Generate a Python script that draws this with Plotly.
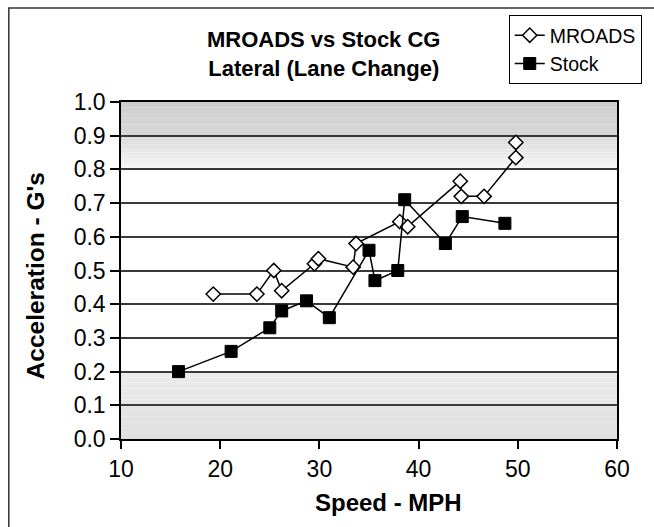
import plotly.graph_objects as go

# Lateral acceleration during a lane change, MROADS vs stock CG
mroads_speed = [19.3, 23.7, 25.4, 26.2, 29.5, 29.9, 33.4, 33.7, 38.1, 38.9, 44.2, 44.3, 46.6, 49.8, 49.8]
mroads_accel = [0.43, 0.43, 0.50, 0.44, 0.52, 0.535, 0.51, 0.58, 0.645, 0.63, 0.765, 0.72, 0.72, 0.835, 0.88]

stock_speed = [15.8, 21.1, 25.0, 26.2, 28.7, 31.0, 35.0, 35.6, 37.9, 38.6, 42.7, 44.4, 48.7]
stock_accel = [0.20, 0.26, 0.33, 0.38, 0.41, 0.36, 0.56, 0.47, 0.50, 0.71, 0.58, 0.66, 0.64]

x_ticks = [10, 20, 30, 40, 50, 60]
y_ticks = [round(0.1 * i, 1) for i in range(11)]

W, H = 654, 527
L, R, T, B = 121, 29, 102, 88
PW, PH = W - L - R, H - T - B


def px(x):
    return (x - L) / PW


def py(y):
    return (H - B - y) / PH


FONT = "Liberation Sans, Arial, sans-serif"

fig = go.Figure()
fig.add_trace(go.Scatter(
    x=mroads_speed, y=mroads_accel, name="MROADS", mode="lines+markers",
    line=dict(color="black", width=1.5),
    marker=dict(symbol="diamond", size=11, color="white",
                line=dict(color="black", width=1.5)),
))
fig.add_trace(go.Scatter(
    x=stock_speed, y=stock_accel, name="Stock", mode="lines+markers",
    line=dict(color="black", width=1.5),
    marker=dict(symbol="square", size=12, color="black",
                line=dict(color="black", width=1)),
))

shapes = []


def band(y0, y1, c0, c1, steps):
    # vertical grey gradient from c0 (at y0) to c1 (at y1)
    for i in range(steps):
        a = y0 + (y1 - y0) * i / steps
        b = y0 + (y1 - y0) * (i + 1) / steps
        t = (i + 0.5) / steps
        g = round(c0 + (c1 - c0) * t)
        shapes.append(dict(type="rect", xref="x", yref="y", x0=10, x1=60, y0=a, y1=b,
                           fillcolor=f"rgb({g},{g},{g})", line=dict(width=0), layer="below"))


band(0.9, 1.0, 216, 204, 6)
band(0.8, 0.9, 248, 216, 12)
band(0.0, 0.2, 222, 236, 12)

# outer chart frame
shapes.append(dict(type="rect", xref="paper", yref="paper",
                   x0=px(7), x1=px(W + 20), y0=py(H + 20), y1=py(8),
                   line=dict(color="#333", width=1.5), layer="below"))

annotations = [
    dict(text="<b>Speed - MPH</b>", xref="paper", yref="paper",
         x=px(393), y=py(503), xanchor="center", yanchor="middle",
         showarrow=False, font=dict(size=24, family=FONT)),
    dict(text="<b>Acceleration - G's</b>", xref="paper", yref="paper",
         x=px(34), y=py(276), xanchor="center", yanchor="middle", textangle=-90,
         showarrow=False, font=dict(size=24.5, family=FONT)),
]

fig.update_layout(
    width=W, height=H,
    margin=dict(l=L, r=R, t=T, b=B),
    paper_bgcolor="white", plot_bgcolor="white",
    font=dict(family=FONT, color="black"),
    shapes=shapes,
    annotations=annotations,
    title=dict(
        text="<b>MROADS vs Stock CG<br>Lateral (Lane Change)</b>",
        font=dict(size=22, family=FONT), x=px(327), xanchor="center",
        y=1 - 47 / H, yanchor="middle", xref="paper", yref="container",
    ),
    legend=dict(
        x=px(515), y=py(15), xanchor="left", yanchor="top",
        bordercolor="black", borderwidth=1, bgcolor="white",
        font=dict(size=19.5, family=FONT), tracegroupgap=3,
    ),
    showlegend=True,
)

fig.update_xaxes(
    range=[10, 60], tickvals=x_ticks, ticktext=[str(v) for v in x_ticks],
    showgrid=False, zeroline=False,
    showline=True, linecolor="black", linewidth=2, mirror=True,
    ticks="outside", ticklen=8, tickwidth=1.5, tickcolor="black",
    tickfont=dict(size=23),
)
fig.update_yaxes(
    range=[0, 1], tickvals=y_ticks, ticktext=[f"{v:.1f}" for v in y_ticks],
    showgrid=True, gridcolor="#3a3a3a", gridwidth=1.5, zeroline=False,
    showline=True, linecolor="black", linewidth=1.5, mirror=True,
    ticks="outside", ticklen=9, tickwidth=1.5, tickcolor="black",
    tickfont=dict(size=23),
)

fig.write_html("out.html")
